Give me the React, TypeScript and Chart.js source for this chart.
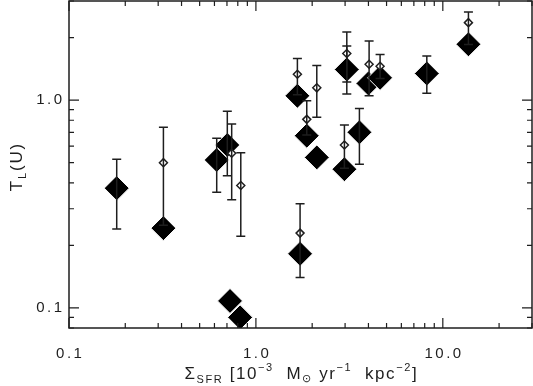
import React, { useEffect, useRef } from "react";
import { Chart, registerables } from "chart.js";
Chart.register(...registerables);

// Filled diamonds (Sigma_SFR, T_L(U))
const xFilled = [0.180, 0.320, 0.617, 0.703, 0.727, 0.823, 1.667, 1.871, 2.117, 1.723, 3.064, 2.975, 3.579, 3.998, 4.617, 8.21, 13.71];
const yFilled = [0.377, 0.242, 0.515, 0.608, 0.108, 0.090, 1.049, 0.674, 0.530, 0.182, 1.404, 0.465, 0.700, 1.203, 1.280, 1.343, 1.857];
// error bars on filled diamonds (null = none visible)
const filledLo = [0.240, null, 0.360, 0.432, null, null, null, null, null, null, 1.069, null, 0.491, null, null, 1.080, null];
const filledHi = [0.519, null, 0.655, 0.885, null, null, null, null, null, null, 1.822, null, 0.912, null, null, 1.632, null];

// Open diamonds with error bars
const xOpen = [0.320, 0.742, 0.830, 1.667, 1.871, 2.117, 1.723, 3.064, 2.975, 4.033, 4.617, 13.71];
const yOpen = [0.500, 0.555, 0.388, 1.333, 0.808, 1.146, 0.229, 1.676, 0.608, 1.489, 1.456, 2.360];
const openLo = [0.25, 0.331, 0.221, 1.06, 0.68, 0.826, 0.140, 1.224, 0.47, 1.049, 1.27, 1.85];
const openHi = [0.740, 0.767, 0.558, 1.586, 0.992, 1.468, 0.317, 2.128, 0.759, 1.926, 1.657, 2.654];

const xMin = 0.1, xMax = 30;
const yMin = 0.08, yMax = 3;
const xTickValues = [0.1, 1, 10];
const xTickLabels = ["0.1", "1.0", "10.0"];
const yTickValues = [0.1, 1];
const yTickLabels = ["0.1", "1.0"];

const INK = "#1e1e1e";
const FAMILY = '"Liberation Sans", Arial, sans-serif';

type Seg = { t: string; size: number; dy?: number };

function drawSegs(ctx: CanvasRenderingContext2D, segs: Seg[], x: number, y: number, align: string, spacing: number) {
  (ctx as any).letterSpacing = spacing + "px";
  const widths = segs.map((s) => {
    ctx.font = `${s.size}px ${FAMILY}`;
    return ctx.measureText(s.t).width;
  });
  const total = widths.reduce((a, b) => a + b, 0) - spacing;
  let cx = align === "center" ? x - total / 2 : align === "right" ? x - total : x;
  ctx.textAlign = "left";
  segs.forEach((s, i) => {
    ctx.font = `${s.size}px ${FAMILY}`;
    ctx.fillText(s.t, cx, y + (s.dy || 0));
    cx += widths[i];
  });
  (ctx as any).letterSpacing = "0px";
}

function logTicks(min: number, max: number) {
  const out: { v: number; major: boolean }[] = [];
  for (let e = Math.floor(Math.log10(min)); e <= Math.ceil(Math.log10(max)); e++) {
    for (let k = 1; k <= 9; k++) {
      const v = k * Math.pow(10, e);
      if (v >= min * 0.999 && v <= max * 1.001) out.push({ v, major: k === 1 });
    }
  }
  return out;
}

const framePlugin = {
  id: "frameTicks",
  afterDatasetsDraw(chart: any) {
    const { ctx, chartArea: a, scales } = chart;
    const xs = scales.x, ys = scales.y;
    ctx.save();
    ctx.strokeStyle = INK;
    ctx.fillStyle = INK;
    ctx.lineWidth = 1.5;
    // error bars
    const bar = (xv: number, lo: number, hi: number) => {
      const px = xs.getPixelForValue(xv);
      const p1 = ys.getPixelForValue(lo);
      const p2 = ys.getPixelForValue(hi);
      ctx.beginPath();
      ctx.moveTo(px, p1); ctx.lineTo(px, p2);
      ctx.moveTo(px - 4.5, p1); ctx.lineTo(px + 4.5, p1);
      ctx.moveTo(px - 4.5, p2); ctx.lineTo(px + 4.5, p2);
      ctx.stroke();
    };
    xFilled.forEach((xv, i) => {
      if (filledLo[i] != null && filledHi[i] != null) bar(xv, filledLo[i] as number, filledHi[i] as number);
    });
    xOpen.forEach((xv, i) => bar(xv, openLo[i], openHi[i]));

    // frame
    ctx.lineWidth = 1.5;
    ctx.strokeRect(a.left, a.top, a.right - a.left, a.bottom - a.top);
    // ticks
    ctx.lineWidth = 1.2;
    ctx.beginPath();
    logTicks(xMin, xMax).forEach(({ v, major }) => {
      const px = xs.getPixelForValue(v);
      const len = major ? 10 : 5;
      ctx.moveTo(px, a.bottom); ctx.lineTo(px, a.bottom - len);
      ctx.moveTo(px, a.top); ctx.lineTo(px, a.top + len);
    });
    logTicks(yMin, yMax).forEach(({ v, major }) => {
      const py = ys.getPixelForValue(v);
      const len = major ? 10 : 5;
      ctx.moveTo(a.left, py); ctx.lineTo(a.left + len, py);
      ctx.moveTo(a.right, py); ctx.lineTo(a.right - len, py);
    });
    ctx.stroke();

    // tick labels
    ctx.textBaseline = "alphabetic";
    xTickValues.forEach((v, i) => {
      drawSegs(ctx, [{ t: xTickLabels[i], size: 15 }], xs.getPixelForValue(v), a.bottom + 30, "center", 2.5);
    });
    ctx.textBaseline = "middle";
    yTickValues.forEach((v, i) => {
      drawSegs(ctx, [{ t: yTickLabels[i], size: 15 }], a.left - 7, ys.getPixelForValue(v), "right", 2.5);
    });

    // x title
    ctx.textBaseline = "alphabetic";
    drawSegs(
      ctx,
      [
        { t: "Σ", size: 17 },
        { t: "SFR", size: 11, dy: 4 },
        { t: " [10", size: 17 },
        { t: "−3", size: 11, dy: -8 },
        { t: "  M", size: 17 },
        { t: "⊙", size: 11, dy: 3 },
        { t: " yr", size: 17 },
        { t: "−1", size: 11, dy: -8 },
        { t: "  kpc", size: 17 },
        { t: "−2", size: 11, dy: -8 },
        { t: "]", size: 17 },
      ],
      (a.left + a.right) / 2,
      379,
      "center",
      1.6
    );

    // y title
    ctx.save();
    ctx.translate(22, (a.top + a.bottom) / 2 + 3);
    ctx.rotate(-Math.PI / 2);
    drawSegs(
      ctx,
      [
        { t: "T", size: 17 },
        { t: "L", size: 11, dy: 4 },
        { t: "(U)", size: 17 },
      ],
      0,
      0,
      "center",
      1.8
    );
    ctx.restore();
    ctx.restore();
  },
};

export default function App() {
  const ref = useRef<HTMLCanvasElement | null>(null);
  useEffect(() => {
    document.body.style.margin = "0";
    if (!ref.current) return;
    const chart = new Chart(ref.current, {
      type: "scatter",
      data: {
        datasets: [
          {
            label: "open",
            data: xOpen.map((x, i) => ({ x, y: yOpen[i] })),
            pointStyle: "rectRot",
            pointRadius: 4,
            backgroundColor: "#ffffff",
            borderColor: INK,
            borderWidth: 1.5,
          },
          {
            label: "filled",
            data: xFilled.map((x, i) => ({ x, y: yFilled[i] })),
            pointStyle: "rectRot",
            pointRadius: 12.5,
            backgroundColor: "#000000",
            borderColor: "#ffffff",
            borderWidth: 1,
          },
        ],
      },
      options: {
        responsive: false,
        animation: false,
        devicePixelRatio: 1,
        layout: { autoPadding: false, padding: { left: 69, right: 1, top: 1, bottom: 58 } },
        plugins: { legend: { display: false }, tooltip: { enabled: false } },
        events: [],
        scales: {
          x: { type: "logarithmic", min: xMin, max: xMax, display: false },
          y: { type: "logarithmic", min: yMin, max: yMax, display: false },
        },
      },
      plugins: [framePlugin],
    });
    return () => chart.destroy();
  }, []);
  return (
    <div style={{ width: 533, height: 386, background: "#fff" }}>
      <canvas ref={ref} width={533} height={386} style={{ display: "block" }} />
    </div>
  );
}
